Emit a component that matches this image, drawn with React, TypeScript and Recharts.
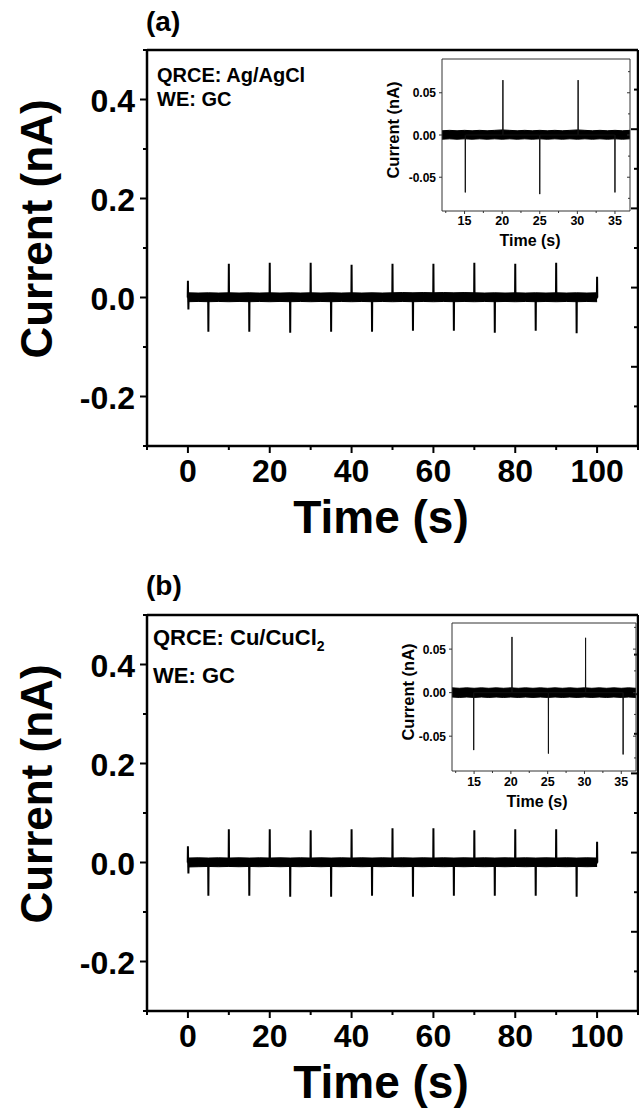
import React from 'react';
import { ComposedChart, Line, Area, XAxis, YAxis } from 'recharts';

const FONT = '"Liberation Sans", Arial, Helvetica, sans-serif';

// ---------- tick values ----------
const mainXTicks = [-10, 0, 10, 20, 30, 40, 50, 60, 70, 80, 90, 100, 110];
const mainYTicks = [-0.3, -0.2, -0.1, 0, 0.1, 0.2, 0.3, 0.4, 0.5];
const frameTicks = [0, 1, 2, 3, 4, 5, 6, 7, 8, 9, 10];
const insetXTicks = [12.5, 15, 17.5, 20, 22.5, 25, 27.5, 30, 32.5, 35];
const insetYTicks = [-0.05, 0, 0.05];
const insetRightTicks = [-0.075, -0.05, -0.025, 0, 0.025, 0.05, 0.075];

// ---------- panel (a) main trace ----------
const bandTimes = [0, 2.5, 5, 7.5, 10, 12.5, 15, 17.5, 20, 22.5, 25, 27.5, 30, 32.5, 35, 37.5, 40, 42.5, 45, 47.5, 50, 52.5, 55, 57.5, 60, 62.5, 65, 67.5, 70, 72.5, 75, 77.5, 80, 82.5, 85, 87.5, 90, 92.5, 95, 97.5, 100];
const bandHiA = [0.0095, 0.0090, 0.0095, 0.0090, 0.0095, 0.0090, 0.0095, 0.0090, 0.0095, 0.0090,
  0.0095, 0.0090, 0.0095, 0.0090, 0.0095, 0.0090, 0.0095, 0.0090, 0.0095, 0.0090,
  0.0095, 0.0100, 0.0095, 0.0100, 0.0095, 0.0100, 0.0095, 0.0100, 0.0095, 0.0090,
  0.0095, 0.0090, 0.0095, 0.0090, 0.0095, 0.0090, 0.0095, 0.0090, 0.0095, 0.0090, 0.0095];
const bandLoA = [-0.0085, -0.0080, -0.0085, -0.0080, -0.0085, -0.0080, -0.0085, -0.0080, -0.0085, -0.0080,
  -0.0085, -0.0080, -0.0085, -0.0080, -0.0085, -0.0080, -0.0085, -0.0080, -0.0085, -0.0080,
  -0.0085, -0.0080, -0.0085, -0.0080, -0.0085, -0.0080, -0.0085, -0.0080, -0.0085, -0.0080,
  -0.0085, -0.0080, -0.0085, -0.0080, -0.0085, -0.0080, -0.0085, -0.0080, -0.0085, -0.0080, -0.0085];
const spikeTimesA = [0, 0.12, 5, 10, 15, 20, 25, 30, 35, 40, 45, 50, 55, 60, 65, 70, 75, 80, 85, 90, 95, 100];
const spikeValsA = [0.034, -0.024, -0.069, 0.068, -0.069, 0.070, -0.071, 0.070, -0.069, 0.066, -0.069,
  0.068, -0.067, 0.068, -0.067, 0.070, -0.071, 0.068, -0.067, 0.070, -0.072, 0.042];

// ---------- panel (b) main trace ----------
const bandHiB = [0.0090, 0.0095, 0.0090, 0.0095, 0.0090, 0.0095, 0.0090, 0.0095, 0.0090, 0.0095,
  0.0090, 0.0095, 0.0090, 0.0095, 0.0090, 0.0095, 0.0090, 0.0095, 0.0090, 0.0095,
  0.0090, 0.0095, 0.0090, 0.0095, 0.0090, 0.0095, 0.0090, 0.0095, 0.0090, 0.0095,
  0.0090, 0.0095, 0.0090, 0.0095, 0.0090, 0.0095, 0.0090, 0.0095, 0.0090, 0.0095, 0.0090];
const bandLoB = [-0.0090, -0.0085, -0.0080, -0.0085, -0.0080, -0.0085, -0.0080, -0.0085, -0.0080, -0.0085,
  -0.0080, -0.0085, -0.0080, -0.0085, -0.0080, -0.0085, -0.0080, -0.0085, -0.0080, -0.0085,
  -0.0080, -0.0085, -0.0080, -0.0085, -0.0080, -0.0085, -0.0080, -0.0085, -0.0080, -0.0085,
  -0.0080, -0.0085, -0.0080, -0.0085, -0.0080, -0.0085, -0.0080, -0.0085, -0.0080, -0.0085, -0.0080];
const spikeTimesB = [0, 0.12, 5, 10, 15, 20, 25, 30, 35, 40, 45, 50, 55, 60, 65, 70, 75, 80, 85, 90, 95, 100];
const spikeValsB = [0.033, -0.022, -0.067, 0.067, -0.067, 0.067, -0.069, 0.065, -0.069, 0.067, -0.067,
  0.069, -0.069, 0.069, -0.067, 0.065, -0.067, 0.067, -0.067, 0.067, -0.069, 0.042];

// ---------- insets ----------
const insetBandTimes = [12, 13, 14, 15, 16, 17, 18, 19, 20, 21, 22, 23, 24, 25, 26, 27, 28, 29, 30, 31, 32, 33, 34, 35, 36, 37];
const insetHiA = [0.0050, 0.0055, 0.0050, 0.0055, 0.0050, 0.0055, 0.0050, 0.0055, 0.0060, 0.0055, 0.0050, 0.0055, 0.0050,
  0.0055, 0.0050, 0.0055, 0.0050, 0.0055, 0.0060, 0.0055, 0.0050, 0.0055, 0.0050, 0.0055, 0.0050, 0.0055];
const insetLoA = [-0.0050, -0.0045, -0.0050, -0.0045, -0.0050, -0.0045, -0.0050, -0.0045, -0.0050, -0.0045, -0.0050, -0.0045, -0.0050,
  -0.0045, -0.0050, -0.0045, -0.0050, -0.0045, -0.0050, -0.0045, -0.0050, -0.0045, -0.0050, -0.0045, -0.0050, -0.0045];
const insetSpikeTimesA = [15.1, 20.1, 25.0, 30.1, 35.0];
const insetSpikeValsA = [-0.068, 0.065, -0.070, 0.065, -0.068];

const insetHiB = [0.0055, 0.0050, 0.0055, 0.0050, 0.0055, 0.0050, 0.0055, 0.0050, 0.0055, 0.0050, 0.0055, 0.0050, 0.0055,
  0.0050, 0.0055, 0.0050, 0.0055, 0.0050, 0.0055, 0.0050, 0.0055, 0.0050, 0.0055, 0.0050, 0.0055, 0.0050];
const insetLoB = [-0.0050, -0.0055, -0.0050, -0.0055, -0.0050, -0.0055, -0.0050, -0.0055, -0.0050, -0.0055, -0.0050, -0.0055, -0.0050,
  -0.0055, -0.0050, -0.0055, -0.0050, -0.0055, -0.0050, -0.0055, -0.0050, -0.0055, -0.0050, -0.0055, -0.0050, -0.0055];
const insetSpikeTimesB = [14.95, 20.15, 25.1, 30.15, 35.25];
const insetSpikeValsB = [-0.066, 0.064, -0.070, 0.063, -0.071];

// ---------- builders ----------
function bandSeries(times: number[], hi: number[], lo: number[]) {
  return times.map((t, i) => ({ t, r: [lo[i], hi[i]] }));
}
function spikeSeries(times: number[], vals: number[], d: number) {
  const out: { t: number; v: number }[] = [];
  times.forEach((t, i) => {
    out.push({ t: t - d, v: 0 });
    out.push({ t, v: vals[i] });
    out.push({ t: t + d, v: 0 });
  });
  return out;
}

// ---------- tick renderers (main) ----------
const mainBottomTick = (p: any) => {
  const v = p.payload.value;
  const major = v >= 0 && v <= 100 && Math.round(v) % 20 === 0;
  return (
    <g>
      <line x1={p.x} y1={p.y} x2={p.x} y2={p.y + (major ? 7 : 4)} stroke="#000" strokeWidth={2} />
      {major && (
        <text x={p.x} y={p.y + 36} textAnchor="middle" fontFamily={FONT} fontWeight="bold" fontSize={32} fill="#000">
          {String(v)}
        </text>
      )}
    </g>
  );
};
const mainLeftTick = (p: any) => {
  const v = p.payload.value;
  const major = Math.abs(Math.round(v * 10)) % 2 === 0;
  return (
    <g>
      <line x1={p.x} y1={p.y} x2={p.x - (major ? 7 : 4)} y2={p.y} stroke="#000" strokeWidth={2} />
      {major && (
        <text x={p.x - 12} y={p.y + 12} textAnchor="end" fontFamily={FONT} fontWeight="bold" fontSize={32} fill="#000">
          {v.toFixed(1)}
        </text>
      )}
    </g>
  );
};
const mainTopTick = (p: any) => {
  const major = p.payload.value % 2 === 0;
  return <line x1={p.x} y1={p.y} x2={p.x} y2={p.y + (major ? 7 : 4)} stroke="#000" strokeWidth={2} />;
};
const mainRightTick = (p: any) => {
  const major = p.payload.value % 2 === 0;
  return <line x1={p.x} y1={p.y} x2={p.x - (major ? 7 : 4)} y2={p.y} stroke="#000" strokeWidth={2} />;
};

// ---------- tick renderers (inset) ----------
const insetBottomTick = (labelDy: number) => (p: any) => {
  const v = p.payload.value;
  const major = Math.round(v * 10) % 50 === 0;
  return (
    <g>
      <line x1={p.x} y1={p.y} x2={p.x} y2={p.y + (major ? 3 : 2)} stroke="#333" strokeWidth={1} />
      {major && (
        <text x={p.x} y={p.y + labelDy} textAnchor="middle" fontFamily={FONT} fontWeight="bold" fontSize={12.5} fill="#000">
          {String(v)}
        </text>
      )}
    </g>
  );
};
const insetTopTick = (p: any) => {
  const major = Math.round(p.payload.value * 10) % 50 === 0;
  return <line x1={p.x} y1={p.y} x2={p.x} y2={p.y + (major ? 3 : 2)} stroke="#333" strokeWidth={1} />;
};
const insetLeftTick = (p: any) => {
  const v = p.payload.value;
  return (
    <g>
      <line x1={p.x} y1={p.y} x2={p.x - 3} y2={p.y} stroke="#333" strokeWidth={1} />
      <text x={p.x - 6} y={p.y + 4.5} textAnchor="end" fontFamily={FONT} fontWeight="bold" fontSize={12} fill="#000">
        {v.toFixed(2)}
      </text>
    </g>
  );
};
const insetRightTick = (p: any) => {
  const major = Math.round(p.payload.value * 1000) % 50 === 0;
  return <line x1={p.x} y1={p.y} x2={p.x - (major ? 3 : 2)} y2={p.y} stroke="#333" strokeWidth={1} />;
};

function MainPanel(props: { top: number; band: any[]; spikes: any[] }) {
  const frame = { stroke: '#000', strokeWidth: 2.5 };
  return (
    <div style={{ position: 'absolute', left: 0, top: props.top, width: 639, height: 560 }}>
      <ComposedChart width={639} height={560} margin={{ top: 49, right: 0, bottom: 113, left: 146 }}>
        <XAxis xAxisId="x" dataKey="t" type="number" domain={[-10, 110]} allowDataOverflow ticks={mainXTicks}
          interval={0} height={1} tickSize={0} tickMargin={0} tickLine={false} axisLine={frame} tick={mainBottomTick} />
        <XAxis xAxisId="top" orientation="top" type="number" domain={[0, 10]} allowDataOverflow ticks={frameTicks}
          interval={0} height={1} tickSize={0} tickMargin={0} tickLine={false} axisLine={frame} tick={mainTopTick} />
        <YAxis yAxisId="y" type="number" domain={[-0.3, 0.5]} allowDataOverflow ticks={mainYTicks}
          interval={0} width={1} tickSize={0} tickMargin={0} tickLine={false} axisLine={frame} tick={mainLeftTick} />
        <YAxis yAxisId="right" orientation="right" type="number" domain={[0, 10]} allowDataOverflow ticks={frameTicks}
          interval={0} width={1} tickSize={0} tickMargin={0} tickLine={false} axisLine={frame} tick={mainRightTick} />
        <Area xAxisId="x" yAxisId="y" data={props.band} dataKey="r" type="linear" stroke="#000" strokeWidth={1}
          fill="#000" fillOpacity={1} isAnimationActive={false} dot={false} activeDot={false} />
        <Line xAxisId="x" yAxisId="y" data={props.spikes} dataKey="v" type="linear" stroke="#000" strokeWidth={2}
          isAnimationActive={false} dot={false} activeDot={false} />
      </ComposedChart>
    </div>
  );
}

function Inset(props: {
  left: number; top: number; width: number; height: number;
  margin: { top: number; right: number; bottom: number; left: number };
  yDomain: number[]; band: any[]; spikes: any[]; labelDy: number;
}) {
  const frame = { stroke: '#333', strokeWidth: 1 };
  return (
    <div style={{ position: 'absolute', left: props.left, top: props.top, width: props.width, height: props.height }}>
      <ComposedChart width={props.width} height={props.height} margin={props.margin}>
        <XAxis xAxisId="x" dataKey="t" type="number" domain={[12, 37]} allowDataOverflow ticks={insetXTicks}
          interval={0} height={1} tickSize={0} tickMargin={0} tickLine={false} axisLine={frame} tick={insetBottomTick(props.labelDy)} />
        <XAxis xAxisId="top" orientation="top" type="number" domain={[12, 37]} allowDataOverflow ticks={insetXTicks}
          interval={0} height={1} tickSize={0} tickMargin={0} tickLine={false} axisLine={frame} tick={insetTopTick} />
        <YAxis yAxisId="y" type="number" domain={props.yDomain} allowDataOverflow ticks={insetYTicks}
          interval={0} width={1} tickSize={0} tickMargin={0} tickLine={false} axisLine={frame} tick={insetLeftTick} />
        <YAxis yAxisId="right" orientation="right" type="number" domain={props.yDomain} allowDataOverflow ticks={insetRightTicks}
          interval={0} width={1} tickSize={0} tickMargin={0} tickLine={false} axisLine={frame} tick={insetRightTick} />
        <Area xAxisId="x" yAxisId="y" data={props.band} dataKey="r" type="linear" stroke="#000" strokeWidth={1}
          fill="#000" fillOpacity={1} isAnimationActive={false} dot={false} activeDot={false} />
        <Line xAxisId="x" yAxisId="y" data={props.spikes} dataKey="v" type="linear" stroke="#111" strokeWidth={1}
          isAnimationActive={false} dot={false} activeDot={false} />
      </ComposedChart>
    </div>
  );
}

export default function App() {
  const bandA = bandSeries(bandTimes, bandHiA, bandLoA);
  const bandB = bandSeries(bandTimes, bandHiB, bandLoB);
  const spikesA = spikeSeries(spikeTimesA, spikeValsA, 0.05);
  const spikesB = spikeSeries(spikeTimesB, spikeValsB, 0.05);
  const iBandA = bandSeries(insetBandTimes, insetHiA, insetLoA);
  const iBandB = bandSeries(insetBandTimes, insetHiB, insetLoB);
  const iSpikesA = spikeSeries(insetSpikeTimesA, insetSpikeValsA, 0.02);
  const iSpikesB = spikeSeries(insetSpikeTimesB, insetSpikeValsB, 0.02);
  const bold = { fontFamily: FONT, fontWeight: 'bold' as const, fill: '#000' };
  const B = 565;
  return (
    <div style={{ position: 'absolute', left: 0, top: 0, width: 639, height: 1117, background: '#fff', overflow: 'hidden' }}>
      <MainPanel top={0} band={bandA} spikes={spikesA} />
      <MainPanel top={B} band={bandB} spikes={spikesB} />
      <Inset left={380} top={40} width={259} height={200}
        margin={{ top: 18, right: 8, bottom: 28, left: 61 }} yDomain={[-0.09, 0.09]}
        band={iBandA} spikes={iSpikesA} labelDy={14} />
      <Inset left={380} top={600} width={259} height={200}
        margin={{ top: 22, right: 2, bottom: 28, left: 71 }} yDomain={[-0.09, 0.08]}
        band={iBandB} spikes={iSpikesB} labelDy={15} />
      <svg width={639} height={1117} style={{ position: 'absolute', left: 0, top: 0, pointerEvents: 'none' }}>
        <text x={146} y={31} fontSize={28} {...bold}>(a)</text>
        <text x={146} y={595} fontSize={28} {...bold}>(b)</text>
        <text transform="translate(52,229) rotate(-90)" textAnchor="middle" fontSize={44} {...bold}>Current (nA)</text>
        <text transform={`translate(52,${229 + B}) rotate(-90)`} textAnchor="middle" fontSize={44} {...bold}>Current (nA)</text>
        <text x={381} y={533} textAnchor="middle" fontSize={46} {...bold}>Time (s)</text>
        <text x={381} y={533 + B} textAnchor="middle" fontSize={46} {...bold}>Time (s)</text>
        <text x={157} y={82} fontSize={20} {...bold}>QRCE: Ag/AgCl</text>
        <text x={157} y={106} fontSize={20} {...bold}>WE: GC</text>
        <text x={153} y={645} fontSize={22} {...bold}>QRCE: Cu/CuCl<tspan fontSize={14} dy={6}>2</tspan></text>
        <text x={153} y={683} fontSize={22} {...bold}>WE: GC</text>
        <text transform="translate(399,130) rotate(-90)" textAnchor="middle" fontSize={16.5} {...bold}>Current (nA)</text>
        <text x={530} y={246} textAnchor="middle" fontSize={16} {...bold}>Time (s)</text>
        <text transform="translate(414,692) rotate(-90)" textAnchor="middle" fontSize={16.5} {...bold}>Current (nA)</text>
        <text x={537} y={807} textAnchor="middle" fontSize={16} {...bold}>Time (s)</text>
      </svg>
    </div>
  );
}
